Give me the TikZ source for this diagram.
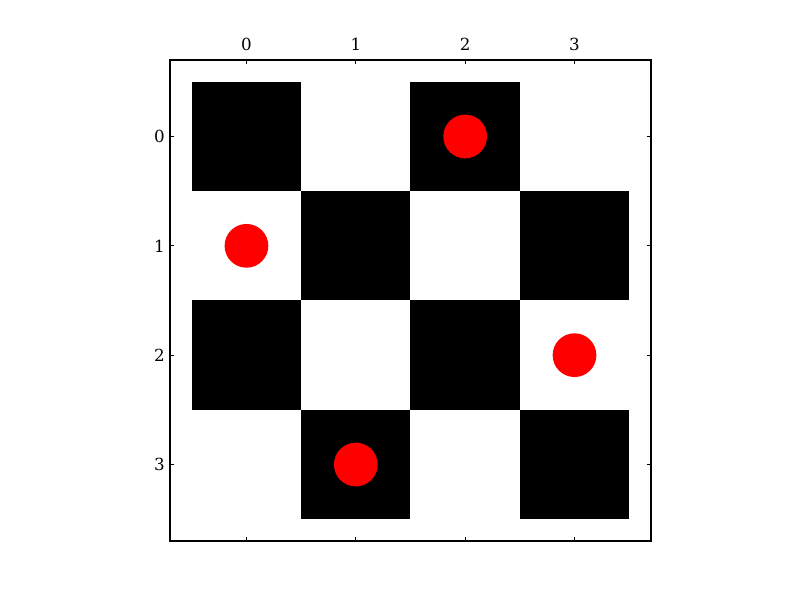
\documentclass[tikz,border=0pt]{standalone}
\usepackage{fontspec}
\setmainfont{DejaVu Serif}
\usepackage{tikz}
\usetikzlibrary{positioning}
\definecolor{cqueen}{RGB}{255,0,0}
\tikzset{ticklabel/.style={font=\fontsize{12}{14}\selectfont, inner sep=0pt}}

\begin{document}
\begin{tikzpicture}[x=78.77pt, y=-78.77pt]
  \useasboundingbox (-2.254,-1.248) rectangle (5.062,4.239);
  % board squares
  \foreach \r in {0,...,3}
    \foreach \c in {0,...,3} {
      \pgfmathtruncatemacro{\odd}{mod(\r+\c,2)}
      \ifnum\odd=0
        \fill[black] (\c-0.5,\r-0.5) rectangle (\c+0.5,\r+0.5);
      \fi
    }
  % queens
  \foreach \c/\r in {2/0,0/1,3/2,1/3}
    \fill[cqueen] (\c,\r) circle (0.2);
  % frame, ticks and tick labels
  \draw[line width=1pt] (-0.7,-0.7) rectangle (3.7,3.7);
  \foreach \i in {0,...,3} {
    \draw[line width=0.5pt] (\i,-0.7) -- ++(0,0.04);
    \draw[line width=0.5pt] (\i,3.7) -- ++(0,-0.04);
    \draw[line width=0.5pt] (-0.7,\i) -- ++(0.04,0);
    \draw[line width=0.5pt] (3.7,\i) -- ++(-0.04,0);
    \node[ticklabel] (top\i) at (\i,-0.846) {\i};
    \node[ticklabel, anchor=east] (left\i) at (-0.746,\i) {\i};
  }
\end{tikzpicture}
\end{document}
